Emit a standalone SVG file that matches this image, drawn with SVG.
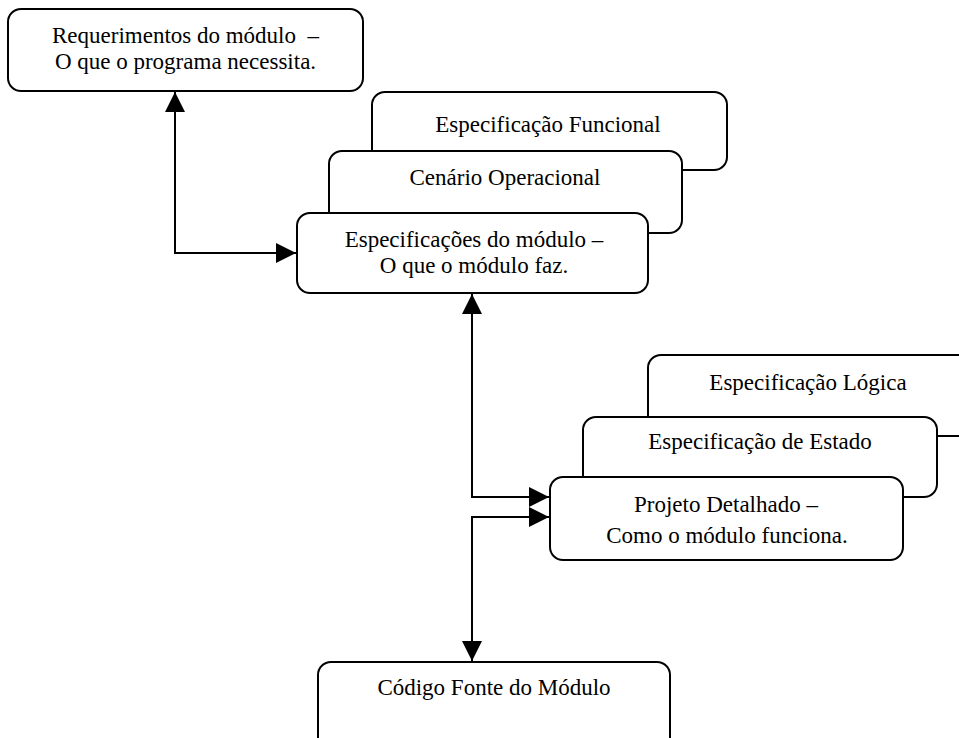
<svg xmlns="http://www.w3.org/2000/svg" width="959" height="738" viewBox="0 0 959 738">
<style>
.box{fill:#fff;stroke:#000;stroke-width:2}
.t{font-family:"Liberation Serif","Times New Roman",serif;font-size:23px;fill:#000;text-anchor:middle}
.c{fill:none;stroke:#000;stroke-width:2;marker-start:url(#ah);marker-end:url(#ah)}
</style>
<defs>
<marker id="ah" viewBox="0 0 10 10" refX="10" refY="5" markerWidth="20" markerHeight="20" markerUnits="userSpaceOnUse" orient="auto-start-reverse">
<path d="M0,0 L10,5 L0,10 z" fill="#000"/>
</marker>
</defs>
<rect width="959" height="738" fill="#fff"/>
<g id="requerimentos">
<rect class="box" x="8" y="9" width="355" height="82" rx="13"/>
<text class="t" x="185.5" y="43">Requerimentos do módulo &#160;–</text>
<text class="t" x="185.5" y="69">O que o programa necessita.</text>
</g>
<g id="especificacao-funcional">
<rect class="box" x="372" y="92" width="355" height="78" rx="13"/>
<text class="t" x="548" y="132">Especificação Funcional</text>
</g>
<g id="cenario-operacional">
<rect class="box" x="329" y="151" width="353" height="82" rx="13"/>
<text class="t" x="505" y="185">Cenário Operacional</text>
</g>
<g id="especificacoes-modulo">
<rect class="box" x="297" y="213" width="351" height="80" rx="13"/>
<text class="t" x="474" y="247">Especificações do módulo –</text>
<text class="t" x="474" y="273">O que o módulo faz.</text>
</g>
<g id="especificacao-logica">
<rect class="box" x="648" y="355" width="360" height="81" rx="13"/>
<text class="t" x="808" y="390">Especificação Lógica</text>
</g>
<g id="especificacao-estado">
<rect class="box" x="583" y="417" width="354" height="80" rx="13"/>
<text class="t" x="760" y="449">Especificação de Estado</text>
</g>
<g id="projeto-detalhado">
<rect class="box" x="550" y="477" width="353" height="83" rx="13"/>
<text class="t" x="726" y="512">Projeto Detalhado –</text>
<text class="t" x="727" y="543">Como o módulo funciona.</text>
</g>
<g id="codigo-fonte">
<rect class="box" x="318" y="662" width="352" height="100" rx="13"/>
<text class="t" x="494" y="695">Código Fonte do Módulo</text>
</g>
<g id="connectors">
<path class="c" d="M175,92 V253 H296"/>
<path class="c" d="M472,294 V497 H549"/>
<path class="c" d="M549,517 H472 V661"/>
</g>
</svg>
